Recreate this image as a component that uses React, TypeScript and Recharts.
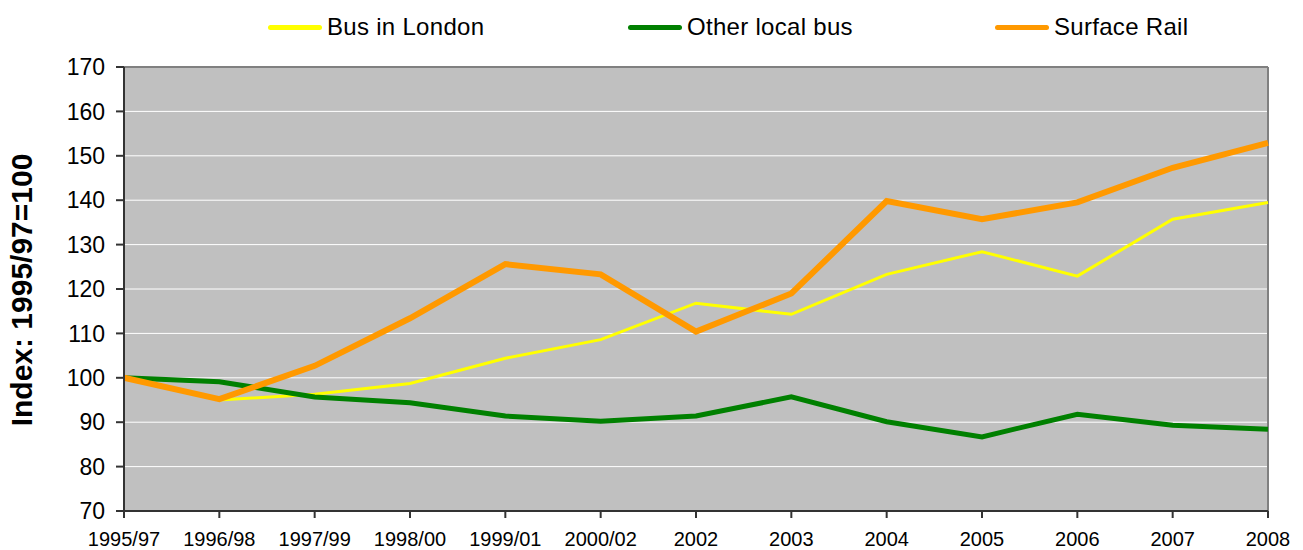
import { CartesianGrid, Line, LineChart, ReferenceLine, XAxis, YAxis } from "recharts";

const years = [
  "1995/97", "1996/98", "1997/99", "1998/00", "1999/01", "2000/02",
  "2002", "2003", "2004", "2005", "2006", "2007", "2008",
];
const busLondon = [100, 95.0, 96.3, 98.7, 104.4, 108.6, 116.8, 114.3, 123.3, 128.4, 122.9, 135.7, 139.5];
const otherBus = [100, 99.1, 95.7, 94.4, 91.4, 90.2, 91.4, 95.7, 90.1, 86.7, 91.8, 89.3, 88.4];
const surfaceRail = [100, 95.2, 102.7, 113.4, 125.6, 123.3, 110.4, 119.0, 139.8, 135.7, 139.5, 147.3, 152.9];
const yTicks = [70, 80, 90, 100, 110, 120, 130, 140, 150, 160, 170];

const series = [
  { key: "bus", name: "Bus in London", color: "#ffff00", width: 3, legendLeft: 268 },
  { key: "other", name: "Other local bus", color: "#008000", width: 5, legendLeft: 628 },
  { key: "rail", name: "Surface Rail", color: "#ff9900", width: 6, legendLeft: 995 },
];

const data = years.map((year, i) => ({
  year,
  bus: busLondon[i],
  other: otherBus[i],
  rail: surfaceRail[i],
}));

const font = "'Liberation Sans', Arial, sans-serif";

function ChartLegend() {
  return (
    <>
      {series.map((s) => (
        <div
          key={s.key}
          style={{
            position: "absolute",
            left: s.legendLeft,
            top: 13,
            display: "flex",
            alignItems: "center",
            fontFamily: font,
            fontSize: 24,
            letterSpacing: 0.3,
            color: "#000",
            whiteSpace: "nowrap",
          }}
        >
          <span
            style={{
              display: "inline-block",
              width: 54,
              height: 5,
              borderRadius: 3,
              background: s.color,
              marginRight: 5,
            }}
          />
          <span>{s.name}</span>
        </div>
      ))}
    </>
  );
}

export default function App() {
  return (
    <div style={{ position: "absolute", left: 0, top: 0, width: 1303, height: 550, background: "#fff" }}>
      <LineChart
        width={1303}
        height={550}
        data={data}
        margin={{ top: 67, right: 35, bottom: 0, left: 60 }}
      >
        <CartesianGrid vertical={false} stroke="#ffffff" fill="#c0c0c0" fillOpacity={1} />
        <XAxis
          dataKey="year"
          interval={0}
          height={39}
          tickSize={7}
          tickMargin={14}
          stroke="#333"
          strokeWidth={2}
          tick={{ fill: "#000", fontSize: 20, fontFamily: font }}
        />
        <YAxis
          domain={[70, 170]}
          ticks={yTicks}
          width={64}
          tickSize={8}
          tickMargin={11}
          stroke="#333"
          strokeWidth={2}
          tick={{ fill: "#000", fontSize: 23, fontFamily: font }}
        />
        <ReferenceLine y={170} stroke="#808080" strokeWidth={2} />
        <ReferenceLine x="2008" stroke="#808080" strokeWidth={2} />
        {series.map((s) => (
          <Line
            key={s.key}
            dataKey={s.key}
            name={s.name}
            type="linear"
            stroke={s.color}
            strokeWidth={s.width}
            dot={false}
            activeDot={false}
            isAnimationActive={false}
          />
        ))}
      </LineChart>
      <ChartLegend />
      <div
        style={{
          position: "absolute",
          left: 22,
          top: 290,
          transform: "translate(-50%, -50%) rotate(-90deg)",
          fontFamily: font,
          fontWeight: "bold",
          fontSize: 30,
          whiteSpace: "nowrap",
          color: "#000",
        }}
      >
        Index: 1995/97=100
      </div>
    </div>
  );
}
